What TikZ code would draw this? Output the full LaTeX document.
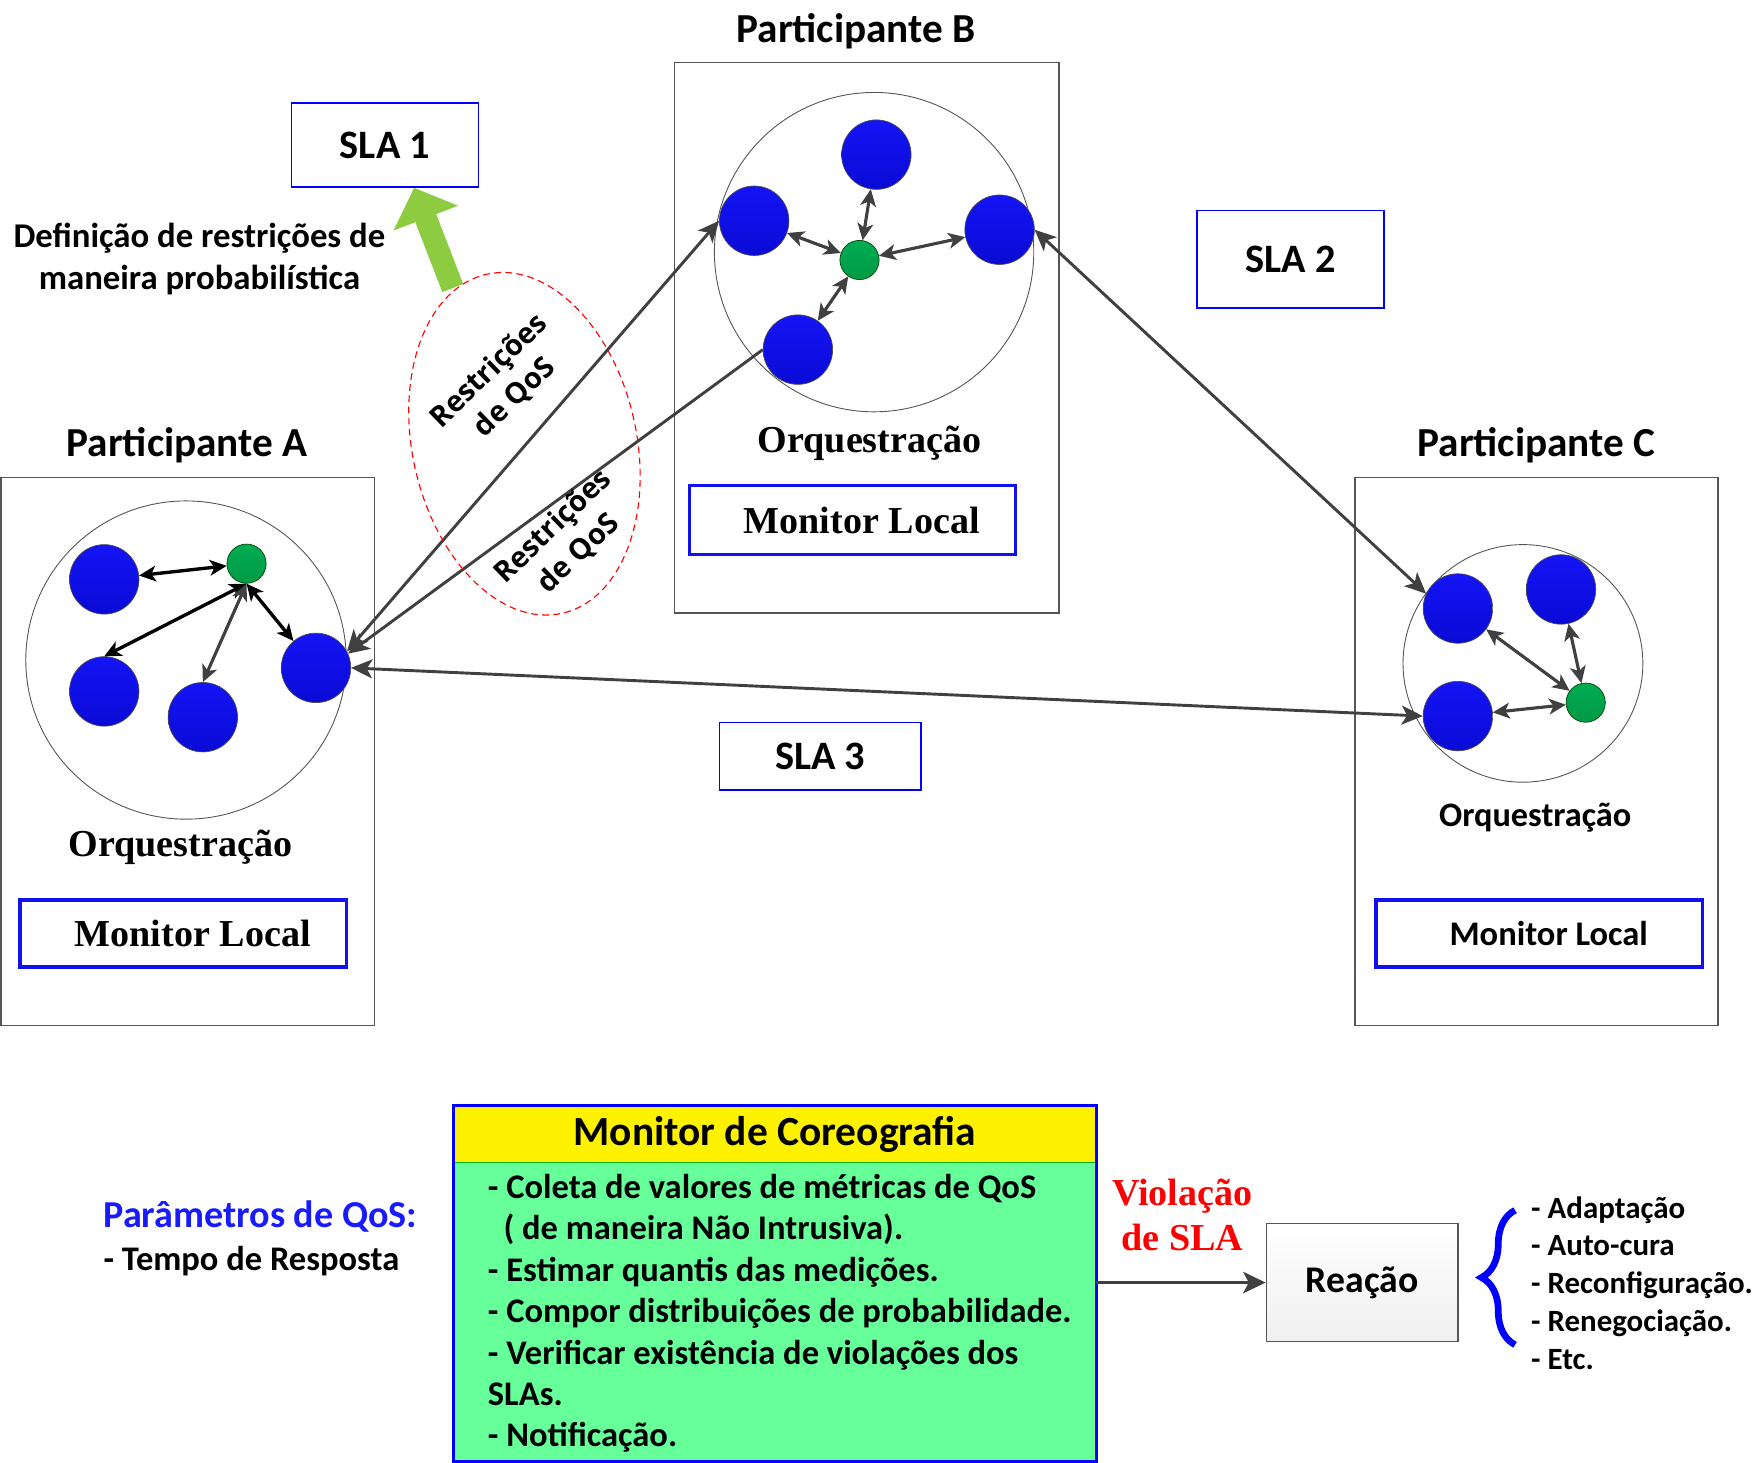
\documentclass[tikz,border=0pt]{standalone}
\usepackage{fontspec}
\setmainfont{Carlito}
\newfontfamily\serifa{Liberation Serif}
\newfontfamily\opensans{Open Sans}
\usetikzlibrary{arrows.meta,positioning,shapes.geometric,decorations.pathreplacing}

\definecolor{cinza}{HTML}{404040}
\definecolor{caixacinza}{HTML}{555555}
\definecolor{azultopo}{HTML}{1414F5}
\definecolor{azulbase}{HTML}{0A0AD6}
\definecolor{verdetopo}{HTML}{00AC52}
\definecolor{verdebase}{HTML}{009A45}
\definecolor{azulmon}{HTML}{1010F0}
\definecolor{verdeseta}{HTML}{8DCB41}
\definecolor{verdecorpo}{HTML}{66FF99}
\definecolor{azulpar}{HTML}{1A1AFF}

\newcommand{\tam}[2]{\fontsize{#1}{#2}\selectfont}

\begin{document}
\begin{tikzpicture}[
		x=0.5pt, y=-0.5pt,
		every node/.style={inner sep=0pt},
		caixa/.style={draw=caixacinza, line width=0.6pt},
		orq/.style={ellipse, draw=caixacinza, line width=0.4pt},
		bola/.style={circle, draw=gray!60!black, line width=0.3pt, top color=azultopo, bottom color=azulbase, minimum size=31pt},
		bolinha/.style={circle, draw=green!25!black, line width=0.3pt, top color=verdetopo, bottom color=verdebase, minimum size=17.5pt},
		titulo/.style={font=\bfseries\tam{18.4}{22}},
		sla/.style={draw=blue, line width=0.6pt, font=\bfseries\tam{18}{22}},
		monitor/.style={draw=azulmon, line width=1.5pt, minimum width=145.5pt},
		liga/.style={draw=cinza, line width=1.4pt, >={Stealth[length=7.5pt,width=7pt,inset=2pt]}, <->},
		ligapreta/.style={liga, draw=black, line width=1.5pt},
		externa/.style={draw=cinza, line width=1.3pt, >={Stealth[length=9.5pt,width=8.5pt,inset=2.5pt]}}
		]
		
		\useasboundingbox (0,0) rectangle (1567,1305);
		
		% participantes
		\node[caixa, minimum width=166.5pt, minimum height=244.5pt] (partA) at (167.5,670.5) {};
		\node[caixa, minimum width=171.5pt, minimum height=245.5pt] (partB) at (773.5,301.5) {};
		\node[caixa, minimum width=162pt, minimum height=244.5pt] (partC) at (1371,670.5) {};
		\node[titulo] (titA) at (167,397) {Participante A};
		\node[titulo] (titB) at (764,28) {Participante B};
		\node[titulo] (titC) at (1371,397) {Participante C};
		
		% orquestracoes
		\node[orq, minimum width=143pt, minimum height=142pt] (orqA) at (166,589) {};
		\node[orq, minimum width=142.5pt, minimum height=142.5pt] (orqB) at (780,225) {};
		\node[orq, minimum width=107pt, minimum height=106pt] (orqC) at (1359,592) {};
		\node[font=\serifa\bfseries\tam{17}{20}] (lblA) at (161,756) {Orquestração};
		\node[font=\serifa\bfseries\tam{17}{20}] (lblB) at (776,396) {Orquestração};
		\node[font=\bfseries\tam{15.3}{18}] (lblC) at (1370,730) {Orquestração};
		
		% monitores locais
		\node[monitor, minimum height=30pt, font=\serifa\bfseries\tam{17}{20}] (monA) at (163.5,833) {\hspace*{8.5pt}Monitor Local};
		\node[monitor, minimum height=31pt, font=\serifa\bfseries\tam{17}{20}] (monB) at (760.5,464) {\hspace*{8.5pt}Monitor Local};
		\node[monitor, minimum height=30pt, font=\bfseries\tam{15.4}{18}] (monC) at (1373.5,833) {\hspace*{8.5pt}Monitor Local};
		
		% servicos
		\node[bola] (a1) at (93,517) {};
		\node[bola] (a2) at (93,617) {};
		\node[bola] (a3) at (181,640) {};
		\node[bola] (a4) at (282,596) {};
		\node[bolinha] (ag) at (220,503) {};
		
		\node[bola] (b1) at (782,138) {};
		\node[bola] (b2) at (673,197) {};
		\node[bola] (b3) at (892,205) {};
		\node[bola] (b4) at (712,312) {};
		\node[bolinha] (bg) at (767,232) {};
		
		\node[bola] (c1) at (1301,543) {};
		\node[bola] (c2) at (1393,526) {};
		\node[bola] (c3) at (1301,639) {};
		\node[bolinha] (cg) at (1415,627) {};
		
		% ligacoes internas
		\draw[ligapreta] (a1) -- (ag);
		\draw[ligapreta] (ag.south) -- (a2.north);
		\draw[liga] (ag.south) -- (a3.north);
		\draw[ligapreta] (ag.south) -- (a4.130);
		\foreach \s in {b1,b2,b3,b4}
			\draw[liga] (bg) -- (\s);
		\foreach \s in {c1,c2,c3}
			\draw[liga] (cg) -- (\s);
		
		% ligacoes entre participantes
		\draw[externa, <->] (a4.28) -- (b2.west);
		\draw[externa, ->] (b4.west) -- (a4.24);
		\draw[externa, <->] (b3.east) -- (c1.155);
		\draw[externa, <->] (a4.east) -- (c3.west);
		
		% SLAs
		\node[sla, minimum width=83.5pt, minimum height=37.5pt] (sla1) at (343.5,129.5) {SLA 1};
		\node[sla, minimum width=83.5pt, minimum height=43.5pt] (sla2) at (1151.5,231.5) {SLA 2};
		\node[sla, minimum width=90pt, minimum height=30pt] (sla3) at (732,675) {SLA 3};
		
		\node[font=\bfseries\tam{15.5}{18.5}, align=center] (defin) at (178,231) {Definição de restrições de\\maneira probabilística};
		
		% restricoes de QoS
		\node[ellipse, draw=red, line width=0.5pt, dash pattern=on 3pt off 2pt, minimum width=100pt, minimum height=155pt, rotate=12.5] (restr) at (468,396) {};
		\node[font=\opensans\bfseries\tam{12.9}{16.5}, align=center, rotate=44] (rq1) at (448,343) {Restrições\\de QoS};
		\node[font=\opensans\bfseries\tam{12.9}{16.5}, align=center, rotate=44] (rq2) at (505,482) {Restrições\\de QoS};
		
		\coordinate (pe) at (404,257);
		\draw[draw=verdeseta, line width=10pt, -{Triangle[length=14.5pt,width=30pt]}] (pe) -- ([xshift=13pt]sla1.south);
		
		% monitor de coreografia
		\node[fill=yellow, minimum width=286.5pt, minimum height=25pt, font=\bfseries\tam{18.5}{22}] (cabeca) at (691.5,1012) {Monitor de Coreografia};
		\node[fill=verdecorpo, minimum width=286.5pt, minimum height=133pt, below=0pt of cabeca] (corpo) {};
		\draw[green!70!black, line width=0.6pt] (cabeca.south west) -- (cabeca.south east);
		\draw[draw=blue, line width=1.3pt] (cabeca.north west) rectangle (corpo.south east);
		\node[anchor=west, align=left, font=\bfseries\tam{15.4}{18.5}] (itens) at (435,1172) {- Coleta de valores de métricas de QoS\\\hspace*{7pt}( de maneira Não Intrusiva).\\- Estimar quantis das medições.\\- Compor distribuições de probabilidade.\\- Verificar existência de violações dos\\SLAs.\\- Notificação.};
		
		\node[anchor=west, text=azulpar, font=\bfseries\tam{17}{20}] (param) at (92,1086) {Parâmetros de QoS:};
		\node[anchor=west, font=\bfseries\tam{15.4}{18}] (tempo) at (92,1125) {- Tempo de Resposta};
		
		% reacao
		\node[text=red, align=center, font=\serifa\bfseries\tam{17}{20}] (viol) at (1055,1084) {Violação\\de SLA};
		\node[draw=caixacinza, line width=0.6pt, top color=white, bottom color=gray!12, minimum width=85.5pt, minimum height=52.5pt, font=\bfseries\tam{16.8}{20}] (reacao) at (1215.5,1144.5) {Reação};
		\draw[draw=cinza, line width=1.6pt, -{Stealth[length=10pt,width=9.5pt,inset=2.5pt]}] (reacao.west -| corpo.east) -- (reacao.west);
		
		\coordinate (cb) at (1352,1200);
		\coordinate (ct) at (1352,1080);
		\draw[blue, line width=3pt, decorate, decoration={brace, amplitude=15pt}] (cb) -- (ct);
		\node[anchor=west, align=left, font=\bfseries\tam{13.8}{16.9}] (reac) at (1366,1145) {- Adaptação\\- Auto-cura\\- Reconfiguração.\\- Renegociação.\\- Etc.};
		
	\end{tikzpicture}
\end{document}
